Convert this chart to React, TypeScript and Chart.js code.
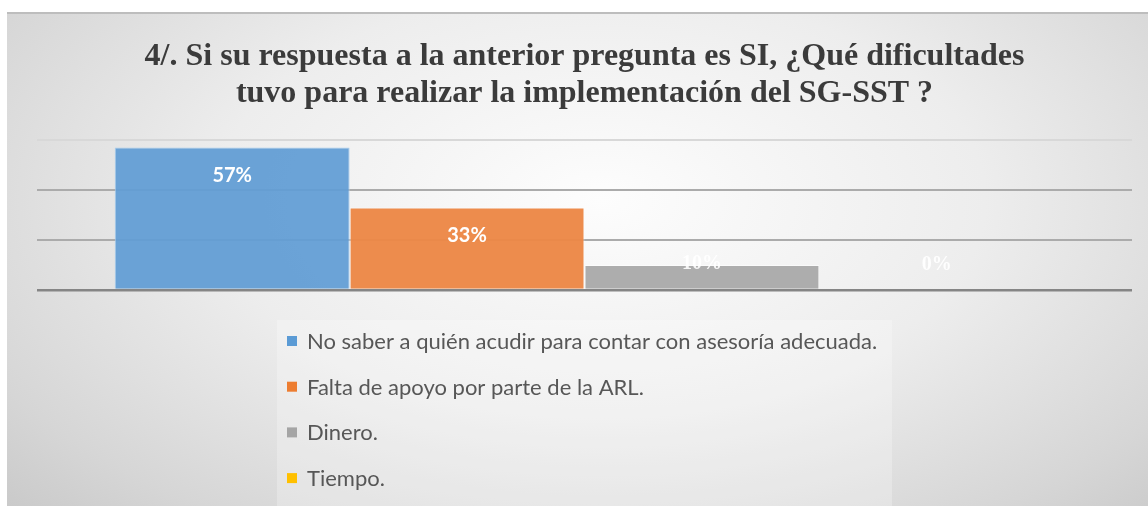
import React, { useEffect, useRef } from "react";
import { Chart, registerables } from "chart.js";

Chart.register(...registerables);

const titleLines = [
  "4/. Si su respuesta a la anterior pregunta es SI, ¿Qué dificultades",
  "tuvo para realizar la implementación del SG-SST ?",
];
const categories = [""];
const seriesLabels = [
  "No saber a quién acudir para contar con asesoría adecuada.",
  "Falta de apoyo por parte de la ARL.",
  "Dinero.",
  "Tiempo.",
];
const seriesValues = [57, 33, 10, 0];
const seriesColors = ["rgba(98,157,212,0.94)", "rgba(236,135,70,0.96)", "rgba(170,170,170,0.97)", "#ffc000"];
const seriesBorders = ["#a8cdee", "rgba(255,255,255,0.5)", "rgba(255,255,255,0.5)", "rgba(255,255,255,0.5)"];
const legendColors = ["#5b9bd5", "#ed7d31", "#a5a5a5", "#ffc000"];
const yTicks = [0, 20, 40, 60];

const W = 1141;
const H = 494;

const labelsPlugin = {
  id: "barLabels",
  afterDatasetsDraw(chart: any) {
    const ctx = chart.ctx;
    ctx.save();
    ctx.textAlign = "center";
    ctx.textBaseline = "middle";
    chart.data.datasets.forEach((ds: any, i: number) => {
      const meta = chart.getDatasetMeta(i);
      meta.data.forEach((bar: any, j: number) => {
        const v = ds.data[j];
        const short = bar.base - bar.y < 40;
        ctx.font = short ? "bold 20px 'Liberation Serif'" : "bold 20px Lato";
        ctx.fillStyle = short ? "rgba(255,255,255,0.9)" : "#ffffff";
        const y = Math.min(bar.y + 28, bar.base - 25);
        ctx.fillText(v + "%", bar.x, y);
      });
    });
    ctx.restore();
  },
};

const legendPlugin = {
  id: "vertLegend",
  afterDraw(chart: any) {
    const ctx = chart.ctx;
    ctx.save();
    ctx.fillStyle = "rgba(255,255,255,0.25)";
    ctx.fillRect(270, 308, 615, 186);
    ctx.font = "22px Lato";
    ctx.textBaseline = "middle";
    chart.data.datasets.forEach((ds: any, i: number) => {
      const y = 329 + i * 45.7;
      ctx.fillStyle = legendColors[i];
      ctx.fillRect(280, y - 5, 10, 10);
      ctx.fillStyle = "#575757";
      ctx.fillText(ds.label, 300, y + 1);
    });
    ctx.restore();
  },
};

export default function App() {
  const ref = useRef<HTMLCanvasElement>(null);
  useEffect(() => {
    if (!ref.current) return;
    const chart = new Chart(ref.current, {
      type: "bar",
      data: {
        labels: categories,
        datasets: seriesLabels.map((label, i) => ({
          label,
          data: [seriesValues[i]],
          backgroundColor: seriesColors[i],
          borderColor: seriesBorders[i],
          borderWidth: 1,
          categoryPercentage: 0.858,
          barPercentage: 1,
        })),
      },
      options: {
        animation: false,
        responsive: false,
        devicePixelRatio: 1,
        layout: { padding: { left: 30, right: 16, top: 0, bottom: 216 } },
        plugins: {
          legend: { display: false },
          tooltip: { enabled: false },
          title: {
            display: true,
            text: titleLines,
            color: "#3b3b3b",
            font: { family: "'Liberation Serif'", size: 32, weight: "bold", lineHeight: 1.156 },
            padding: { top: 26, bottom: 28 },
          },
        },
        scales: {
          x: { display: false },
          y: {
            min: yTicks[0],
            max: yTicks[yTicks.length - 1],
            afterBuildTicks: (s: any) => {
              s.ticks = yTicks.map((v) => ({ value: v }));
            },
            ticks: { display: false },
            border: { display: false },
            grid: {
              drawTicks: false,
              color: (c: any) =>
                c.tick && c.tick.value === 0 ? "#858585" : c.tick && c.tick.value === 60 ? "#d8d8d8" : "#ababab",
              lineWidth: (c: any) => (c.tick && c.tick.value === 0 ? 2.5 : 2),
            },
          },
        },
      },
      plugins: [labelsPlugin, legendPlugin],
    } as any);
    return () => chart.destroy();
  }, []);

  return (
    <div style={{ position: "fixed", left: 0, top: 0, width: 1148, height: 506, background: "#fff", overflow: "hidden" }}>
      <div
        style={{
          position: "absolute",
          left: 7,
          top: 12,
          width: W,
          height: H,
          background:
            "radial-gradient(ellipse 75% 95% at 52% 38%, #fdfdfd 0%, #ededed 45%, #d6d6d6 80%, #c6c6c6 100%)",
        }}
      >
        <div style={{ position: "absolute", left: 0, top: 0, width: W, height: 2, background: "#bdbdbd" }} />
        <canvas ref={ref} width={W} height={H} style={{ position: "absolute", left: 0, top: 0, width: W, height: H }} />
      </div>
    </div>
  );
}
